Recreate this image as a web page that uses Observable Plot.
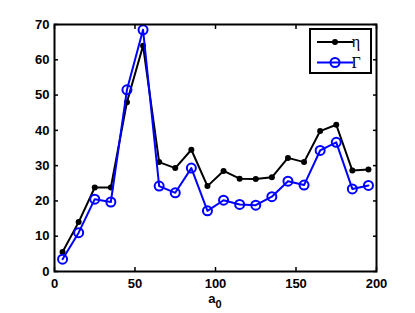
<!DOCTYPE html>
<html><head><meta charset="utf-8">
<script src="https://cdn.jsdelivr.net/npm/d3@7"></script>
<script src="https://cdn.jsdelivr.net/npm/@observablehq/plot@0.6"></script>
<style>body{margin:0;background:#fff} #c{width:415px;height:313px}</style>
</head><body><div id="c"></div>
<script>
const a0 = [5, 15, 25, 35, 45, 55, 65, 75, 85, 95, 105, 115, 125, 135, 145, 155, 165, 175, 185, 195];
const eta = [5.5, 14, 23.8, 23.8, 48, 64, 31, 29.3, 34.5, 24.2, 28.5, 26.3, 26.2, 26.7, 32.2, 31, 39.8, 41.6, 28.6, 28.9];
const gamma = [3.5, 11, 20.5, 19.7, 51.5, 68.5, 24.2, 22.3, 29.3, 17.2, 20.2, 19, 18.8, 21.2, 25.6, 24.5, 34.3, 36.6, 23.4, 24.4];
const xTicks = [0, 50, 100, 150, 200];
const yTicks = [0, 10, 20, 30, 40, 50, 60, 70];
const seriesNames = ["η", "Γ"];
const seriesColors = ["#000000", "#0000ff"];

const data = a0.map((x, i) => ({a0: x, eta: eta[i], gamma: gamma[i]}));

const plot = Plot.plot({
  width: 415, height: 313,
  marginLeft: 54, marginRight: 39, marginTop: 24, marginBottom: 42,
  style: {fontFamily: "'Liberation Sans', Arial, sans-serif", fontSize: "13px", fontWeight: "bold", color: "black", background: "white"},
  x: {domain: [0, 200]},
  y: {domain: [0, 70]},
  marks: [
    Plot.axisX(xTicks, {anchor: "bottom", tickSize: 0, tickPadding: 7, label: null}),
    Plot.axisY(yTicks, {anchor: "left", tickSize: 0, tickPadding: 5, label: null}),
    Plot.axisX(xTicks, {anchor: "bottom", tickSize: -4, tickFormat: () => "", label: null, strokeWidth: 1.5}),
    Plot.axisX(xTicks, {anchor: "top", tickSize: -4, tickFormat: () => "", label: null, strokeWidth: 1.5}),
    Plot.axisY(yTicks, {anchor: "left", tickSize: -4, tickFormat: () => "", label: null, strokeWidth: 1.5}),
    Plot.axisY(yTicks, {anchor: "right", tickSize: -4, tickFormat: () => "", label: null, strokeWidth: 1.5}),
    Plot.line(data, {x: "a0", y: "eta", stroke: seriesColors[0], strokeWidth: 2}),
    Plot.dot(data, {x: "a0", y: "eta", fill: seriesColors[0], r: 3}),
    Plot.line(data, {x: "a0", y: "gamma", stroke: seriesColors[1], strokeWidth: 2}),
    Plot.dot(data, {x: "a0", y: "gamma", stroke: seriesColors[1], fill: "none", r: 4.5, strokeWidth: 2}),
    Plot.frame({stroke: "black", strokeWidth: 2})
  ]
});

const svg = d3.select(plot);
const xs = plot.scale("x");
// x label a0
const lab = svg.append("text")
  .attr("x", xs.apply(100)).attr("y", 303)
  .attr("text-anchor", "middle")
  .style("font-family", "'Liberation Sans', Arial, sans-serif")
  .style("font-weight", "bold").style("font-size", "13px");
lab.append("tspan").text("a");
lab.append("tspan").attr("dy", 5).style("font-size", "11px").text("0");

// legend
const lg = svg.append("g").attr("transform", "translate(310,29)");
lg.append("rect").attr("width", 61).attr("height", 44).attr("fill", "white").attr("stroke", "black").attr("stroke-width", 2);
seriesNames.forEach((name, i) => {
  const y = 13 + i * 20.5;
  lg.append("line").attr("x1", 7).attr("x2", 43).attr("y1", y).attr("y2", y)
    .attr("stroke", seriesColors[i]).attr("stroke-width", 2);
  if (i === 0) lg.append("circle").attr("cx", 25).attr("cy", y).attr("r", 3).attr("fill", seriesColors[i]);
  else lg.append("circle").attr("cx", 25).attr("cy", y).attr("r", 4.5).attr("fill", "none").attr("stroke", seriesColors[i]).attr("stroke-width", 2);
  lg.append("text").attr("x", 46).attr("y", y + 5)
    .style("font-family", "'Liberation Serif', 'Times New Roman', serif")
    .style("font-size", "16px").style("font-weight", "normal").text(name);
});

document.getElementById("c").appendChild(plot);
</script>
</body></html>
